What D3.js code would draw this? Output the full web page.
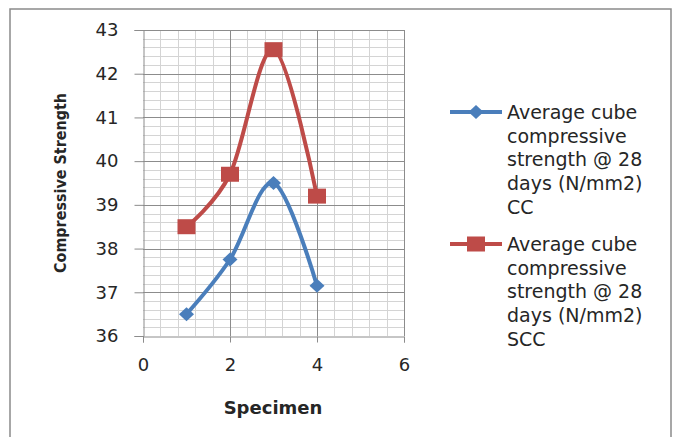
<!DOCTYPE html>
<html>
<head>
<meta charset="utf-8">
<script src="https://cdn.jsdelivr.net/npm/d3@7"></script>
<style>
  body { margin: 0; background: #fff; }
  text { font-family: "DejaVu Sans", sans-serif; fill: #262626; }
</style>
</head>
<body>
<div id="chart"></div>
<script>
// values
const specimens = [1, 2, 3, 4];
const ccStrength = [36.5, 37.75, 39.5, 37.15];
const sccStrength = [38.5, 39.7, 42.55, 39.2];
const xTicks = [0, 2, 4, 6];
const yTicks = [36, 37, 38, 39, 40, 41, 42, 43];
const ccLabel = ["Average cube", "compressive", "strength @ 28", "days (N/mm2)", "CC"];
const sccLabel = ["Average cube", "compressive", "strength @ 28", "days (N/mm2)", "SCC"];

function drawChart() {
    const width = 680;
    const height = 437;

    const svg = d3.select("#chart")
        .append("svg")
        .attr("width", width)
        .attr("height", height);

    // outer frame
    svg.append("rect")
        .attr("x", 10).attr("y", 9)
        .attr("width", 661).attr("height", 440)
        .attr("fill", "none")
        .attr("stroke", "#8a8a8a")
        .attr("stroke-width", 1.5);

    const x = d3.scaleLinear().domain([0, 6]).range([143, 404]);
    const y = d3.scaleLinear().domain([36, 43]).range([336, 30]);

    // minor grid
    const minorX = d3.range(0, 6.001, 0.4).filter(v => Math.abs(v / 2 - Math.round(v / 2)) > 1e-6);
    const minorY = d3.range(36, 43.001, 0.2).filter(v => Math.abs(v - Math.round(v)) > 1e-6);

    svg.append("g").selectAll("line")
        .data(minorX)
        .enter().append("line")
        .attr("x1", d => Math.round(x(d)) + 0.5).attr("x2", d => Math.round(x(d)) + 0.5)
        .attr("y1", y(43)).attr("y2", y(36))
        .attr("stroke", "#d4d4d4");

    svg.append("g").selectAll("line")
        .data(minorY)
        .enter().append("line")
        .attr("x1", x(0)).attr("x2", x(6))
        .attr("y1", d => Math.round(y(d)) + 0.5).attr("y2", d => Math.round(y(d)) + 0.5)
        .attr("stroke", "#d4d4d4");

    // major grid
    svg.append("g").selectAll("line")
        .data(xTicks.slice(1))
        .enter().append("line")
        .attr("x1", d => Math.round(x(d)) + 0.5).attr("x2", d => Math.round(x(d)) + 0.5)
        .attr("y1", y(43)).attr("y2", y(36))
        .attr("stroke", "#8c8c8c");

    svg.append("g").selectAll("line")
        .data(yTicks.slice(1))
        .enter().append("line")
        .attr("x1", x(0)).attr("x2", x(6))
        .attr("y1", d => Math.round(y(d)) + 0.5).attr("y2", d => Math.round(y(d)) + 0.5)
        .attr("stroke", "#8c8c8c");

    // axes
    const yAxis = svg.append("g")
        .attr("transform", "translate(" + (Math.round(x(0)) + 0.5) + ",0)")
        .call(d3.axisLeft(y).tickValues(yTicks).tickFormat(d3.format("d")).tickSize(9).tickPadding(16));
    const xAxis = svg.append("g")
        .attr("transform", "translate(0," + (Math.round(y(36)) + 0.5) + ")")
        .call(d3.axisBottom(x).tickValues(xTicks).tickFormat(d3.format("d")).tickSize(6).tickPadding(16));

    [xAxis, yAxis].forEach(a => {
        a.select(".domain").attr("stroke", "#8c8c8c");
        a.selectAll(".tick line").attr("stroke", "#8c8c8c");
        a.selectAll(".tick text")
            .attr("font-family", "DejaVu Sans")
            .attr("font-size", 18)
            .attr("fill", "#262626");
    });

    // axis titles
    svg.append("text")
        .attr("x", 273).attr("y", 414)
        .attr("text-anchor", "middle")
        .attr("font-size", 18)
        .attr("font-weight", "bold")
        .text("Specimen");

    svg.append("text")
        .attr("transform", "translate(66,183) rotate(-90)")
        .attr("text-anchor", "middle")
        .attr("font-size", 16)
        .attr("font-weight", "bold")
        .attr("textLength", 180)
        .attr("lengthAdjust", "spacingAndGlyphs")
        .text("Compressive Strength");

    // series
    const series = [
        { name: "CC", values: ccStrength, color: "#4a7ebb", marker: "diamond", label: ccLabel },
        { name: "SCC", values: sccStrength, color: "#be4b48", marker: "square", label: sccLabel }
    ];

    const line = d3.line()
        .x(d => x(d[0]))
        .y(d => y(d[1]))
        .curve(d3.curveCardinal.tension(0));

    function drawMarker(g, type, cx, cy, color) {
        if (type === "square") {
            g.append("rect")
                .attr("x", cx - 9).attr("y", cy - 7.5)
                .attr("width", 18).attr("height", 15)
                .attr("fill", color);
        } else {
            g.append("path")
                .attr("d", `M${cx},${cy - 7} L${cx + 7.5},${cy} L${cx},${cy + 7} L${cx - 7.5},${cy} Z`)
                .attr("fill", color);
        }
    }

    series.forEach(s => {
        const pts = specimens.map((v, i) => [v, s.values[i]]);
        svg.append("path")
            .datum(pts)
            .attr("d", line)
            .attr("fill", "none")
            .attr("stroke", s.color)
            .attr("stroke-width", 4)
            .attr("stroke-linejoin", "round");
        const g = svg.append("g");
        pts.forEach(p => drawMarker(g, s.marker, x(p[0]), y(p[1]), s.color));
    });

    // legend
    series.forEach((s, i) => {
        const top = 112 + i * 132;
        const lg = svg.append("g");
        lg.append("line")
            .attr("x1", 450).attr("x2", 502)
            .attr("y1", top).attr("y2", top)
            .attr("stroke", s.color)
            .attr("stroke-width", 4);
        drawMarker(lg, s.marker, 476, top, s.color);
        lg.append("text")
            .attr("x", 507).attr("y", top + 7)
            .attr("font-size", 19)
            .selectAll("tspan")
            .data(s.label)
            .enter().append("tspan")
            .attr("x", 507)
            .attr("dy", (d, j) => j === 0 ? 0 : 23.7)
            .text(d => d);
    });
}

drawChart();
</script>
</body>
</html>
